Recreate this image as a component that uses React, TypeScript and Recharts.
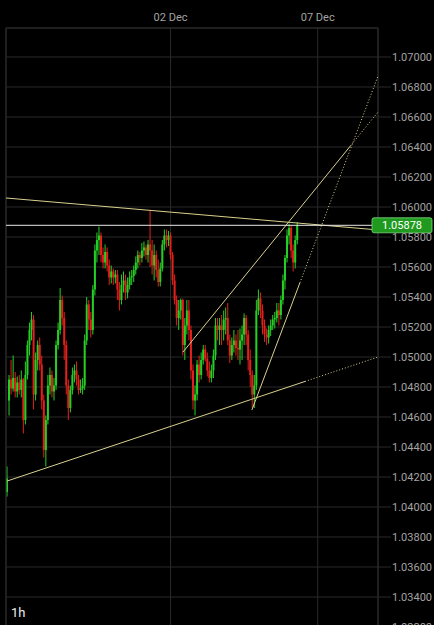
import { Bar, CartesianGrid, ComposedChart, ReferenceLine, XAxis, YAxis } from "recharts"

// hourly candles
const opens = [
  1.0410, 1.0471, 1.0485, 1.0479, 1.0486, 1.0477, 1.0483, 1.0478, 1.0485, 1.0458,
  1.0488, 1.0508, 1.0518, 1.0525, 1.0475, 1.0498, 1.0508, 1.0495, 1.0471, 1.0438,
  1.0458, 1.0481, 1.0488, 1.0477, 1.0481, 1.0508, 1.0518, 1.0538, 1.0526, 1.0508,
  1.0481, 1.0466, 1.0478, 1.0488, 1.0491, 1.0485, 1.0478, 1.0479, 1.0481, 1.0511,
  1.0535, 1.0525, 1.0518, 1.0545, 1.0571, 1.0578, 1.0581, 1.0568, 1.0563, 1.0570,
  1.0561, 1.0553, 1.0557, 1.0553, 1.0555, 1.0545, 1.0538, 1.0548, 1.0551, 1.0543,
  1.0548, 1.0553, 1.0554, 1.0558, 1.0563, 1.0568, 1.0566, 1.0571, 1.0573, 1.0568,
  1.0575, 1.0571, 1.0561, 1.0568, 1.0558, 1.0550, 1.0559, 1.0575, 1.0581, 1.0578,
  1.0581, 1.0568, 1.0551, 1.0538, 1.0526, 1.0531, 1.0538, 1.0508, 1.0521, 1.0531,
  1.0518, 1.0491, 1.0471, 1.0475, 1.0495, 1.0488, 1.0498, 1.0505, 1.0499, 1.0491,
  1.0486, 1.0491, 1.0501, 1.0521, 1.0518, 1.0521, 1.0518, 1.0525, 1.0526, 1.0511,
  1.0501, 1.0508, 1.0511, 1.0506, 1.0505, 1.0511, 1.0515, 1.0526, 1.0515, 1.0498,
  1.0488, 1.0475, 1.0481, 1.0531, 1.0539, 1.0531, 1.0521, 1.0515, 1.0513, 1.0518,
  1.0521, 1.0525, 1.0526, 1.0531, 1.0528, 1.0538, 1.0551, 1.0566, 1.0581, 1.0586,
  1.0571, 1.0563, 1.0578,
]
const highs = [
  1.0427, 1.0488, 1.0498, 1.0501, 1.0490, 1.0487, 1.0488, 1.0491, 1.0486, 1.0497,
  1.0511, 1.0523, 1.0530, 1.0528, 1.0503, 1.0511, 1.0513, 1.0501, 1.0475, 1.0461,
  1.0488, 1.0493, 1.0491, 1.0486, 1.0511, 1.0523, 1.0546, 1.0541, 1.0530, 1.0511,
  1.0485, 1.0481, 1.0493, 1.0495, 1.0497, 1.0488, 1.0485, 1.0486, 1.0515, 1.0540,
  1.0538, 1.0530, 1.0548, 1.0575, 1.0583, 1.0587, 1.0583, 1.0573, 1.0575, 1.0573,
  1.0565, 1.0561, 1.0559, 1.0558, 1.0558, 1.0550, 1.0555, 1.0557, 1.0555, 1.0553,
  1.0557, 1.0558, 1.0561, 1.0567, 1.0571, 1.0570, 1.0576, 1.0577, 1.0575, 1.0578,
  1.0598, 1.0578, 1.0575, 1.0571, 1.0565, 1.0563, 1.0578, 1.0585, 1.0585, 1.0584,
  1.0583, 1.0570, 1.0555, 1.0541, 1.0538, 1.0539, 1.0539, 1.0526, 1.0538, 1.0538,
  1.0521, 1.0495, 1.0481, 1.0498, 1.0501, 1.0503, 1.0508, 1.0508, 1.0503, 1.0497,
  1.0495, 1.0505, 1.0526, 1.0526, 1.0526, 1.0528, 1.0531, 1.0533, 1.0536, 1.0515,
  1.0513, 1.0518, 1.0515, 1.0518, 1.0519, 1.0521, 1.0529, 1.0528, 1.0518, 1.0505,
  1.0491, 1.0488, 1.0538, 1.0545, 1.0543, 1.0535, 1.0525, 1.0519, 1.0521, 1.0525,
  1.0528, 1.0530, 1.0536, 1.0536, 1.0541, 1.0555, 1.0568, 1.0585, 1.0589, 1.0588,
  1.0575, 1.0581, 1.0590,
]
const lows = [
  1.0407, 1.0461, 1.0475, 1.0477, 1.0473, 1.0473, 1.0475, 1.0473, 1.0449, 1.0455,
  1.0485, 1.0501, 1.0511, 1.0465, 1.0471, 1.0491, 1.0491, 1.0465, 1.0433, 1.0427,
  1.0455, 1.0475, 1.0473, 1.0471, 1.0478, 1.0505, 1.0515, 1.0521, 1.0498, 1.0475,
  1.0458, 1.0463, 1.0475, 1.0483, 1.0481, 1.0475, 1.0476, 1.0475, 1.0478, 1.0508,
  1.0518, 1.0513, 1.0515, 1.0541, 1.0563, 1.0568, 1.0563, 1.0559, 1.0559, 1.0557,
  1.0548, 1.0549, 1.0548, 1.0549, 1.0538, 1.0531, 1.0535, 1.0543, 1.0538, 1.0539,
  1.0545, 1.0548, 1.0550, 1.0555, 1.0559, 1.0561, 1.0563, 1.0567, 1.0565, 1.0563,
  1.0560, 1.0555, 1.0551, 1.0553, 1.0547, 1.0547, 1.0557, 1.0571, 1.0573, 1.0574,
  1.0565, 1.0548, 1.0535, 1.0521, 1.0518, 1.0525, 1.0501, 1.0498, 1.0515, 1.0511,
  1.0485, 1.0465, 1.0461, 1.0471, 1.0483, 1.0485, 1.0495, 1.0497, 1.0487, 1.0483,
  1.0483, 1.0486, 1.0498, 1.0511, 1.0508, 1.0508, 1.0511, 1.0515, 1.0508, 1.0496,
  1.0498, 1.0503, 1.0501, 1.0498, 1.0495, 1.0498, 1.0508, 1.0508, 1.0491, 1.0480,
  1.0466, 1.0466, 1.0478, 1.0528, 1.0526, 1.0515, 1.0510, 1.0508, 1.0509, 1.0514,
  1.0518, 1.0519, 1.0523, 1.0521, 1.0525, 1.0535, 1.0545, 1.0563, 1.0575, 1.0566,
  1.0557, 1.0559, 1.0575,
]
const closes = [
  1.0419, 1.0485, 1.0479, 1.0486, 1.0477, 1.0483, 1.0478, 1.0485, 1.0458, 1.0488,
  1.0508, 1.0518, 1.0525, 1.0475, 1.0498, 1.0508, 1.0495, 1.0471, 1.0438, 1.0458,
  1.0481, 1.0488, 1.0477, 1.0481, 1.0508, 1.0518, 1.0538, 1.0526, 1.0508, 1.0481,
  1.0466, 1.0478, 1.0488, 1.0491, 1.0485, 1.0478, 1.0479, 1.0481, 1.0511, 1.0535,
  1.0525, 1.0518, 1.0545, 1.0571, 1.0578, 1.0581, 1.0568, 1.0563, 1.0570, 1.0561,
  1.0553, 1.0557, 1.0553, 1.0555, 1.0545, 1.0538, 1.0548, 1.0551, 1.0543, 1.0548,
  1.0553, 1.0554, 1.0558, 1.0563, 1.0568, 1.0566, 1.0571, 1.0573, 1.0568, 1.0575,
  1.0571, 1.0561, 1.0568, 1.0558, 1.0550, 1.0559, 1.0575, 1.0581, 1.0578, 1.0581,
  1.0568, 1.0551, 1.0538, 1.0526, 1.0531, 1.0538, 1.0508, 1.0521, 1.0531, 1.0518,
  1.0491, 1.0471, 1.0475, 1.0495, 1.0488, 1.0498, 1.0505, 1.0499, 1.0491, 1.0486,
  1.0491, 1.0501, 1.0521, 1.0518, 1.0521, 1.0518, 1.0525, 1.0526, 1.0511, 1.0501,
  1.0508, 1.0511, 1.0506, 1.0505, 1.0511, 1.0515, 1.0526, 1.0515, 1.0498, 1.0488,
  1.0475, 1.0481, 1.0531, 1.0539, 1.0531, 1.0521, 1.0515, 1.0513, 1.0518, 1.0521,
  1.0525, 1.0526, 1.0531, 1.0528, 1.0538, 1.0551, 1.0566, 1.0581, 1.0586, 1.0571,
  1.0563, 1.0578, 1.0588,
]

// x is the bar index; 02 Dec and 07 Dec fall on these bars
const dateTicks = [80, 152]
const dateLabels = ["02 Dec", "07 Dec"]

const priceTicks = [
  1.032, 1.034, 1.036, 1.038, 1.04, 1.042, 1.044, 1.046, 1.048, 1.05,
  1.052, 1.054, 1.056, 1.058, 1.06, 1.062, 1.064, 1.066, 1.068, 1.07,
]
const lastPrice = 1.05878

// drawn trend lines: [x1, y1, x2, y2, dotted]
const trendLines: [number, number, number, number, boolean][] = [
  [-0.5, 1.0606, 181.5, 1.05847, false],
  [0, 1.04173, 145.8, 1.04837, false],
  [145.8, 1.04837, 181.5, 1.05, true],
  [86.1, 1.05033, 168, 1.06407, false],
  [168, 1.06407, 181.5, 1.06633, true],
  [119.8, 1.04647, 143.3, 1.05495, false],
  [143.3, 1.05495, 181.5, 1.06873, true],
]

const UP = "#26cf26"
const DOWN = "#e3201b"
const GRID = "#2a2a2a"
const TREND = "#d8d08e"
const FONT = "Roboto, 'Liberation Sans', sans-serif"

const data = opens.map((open, i) => ({
  i,
  range: [lows[i], highs[i]],
  open,
  close: closes[i],
  high: highs[i],
  low: lows[i],
}))

function Candle(props: any) {
  const { x, y, width, height, payload } = props
  const { open, close, high, low } = payload
  const color = close >= open ? UP : DOWN
  const top = height < 0 ? y + height : y
  const h = Math.abs(height)
  const span = high - low || 1
  const py = (v: number) => top + ((high - v) / span) * h
  const cx = x + width / 2
  const bodyTop = py(Math.max(open, close))
  const bodyBot = py(Math.min(open, close))
  return (
    <g>
      <line x1={cx} x2={cx} y1={top} y2={top + h} stroke={color} strokeWidth={1} />
      <rect x={cx - 1} y={bodyTop} width={2} height={Math.max(bodyBot - bodyTop, 1)} fill={color} />
    </g>
  )
}

function DateTick(props: any) {
  const { x, payload } = props
  const label = dateLabels[dateTicks.indexOf(payload.value)]
  return (
    <text x={x} y={21} textAnchor="middle" fill="#a3a3a3" fontSize={11} fontFamily={FONT}>
      {label}
    </text>
  )
}

function PriceTick(props: any) {
  const { x, y, payload } = props
  return (
    <g>
      <line x1={x} x2={x + 13} y1={y} y2={y} stroke={GRID} />
      <text x={x + 14} y={y + 4} fill="#a3a3a3" fontSize={11} fontFamily={FONT}>
        {payload.value.toFixed(5)}
      </text>
    </g>
  )
}

function PriceTag(props: any) {
  const { viewBox } = props
  const right = viewBox.x + viewBox.width
  return (
    <g>
      <rect x={right - 6} y={viewBox.y - 7.5} width={60} height={15} rx={2} fill="#1f9a1f" stroke="#7fd87f" strokeWidth={0.8} />
      <text x={right + 24} y={viewBox.y + 4} textAnchor="middle" fill="#ffffff" fontSize={11} fontFamily={FONT}>
        {lastPrice.toFixed(5)}
      </text>
    </g>
  )
}

export default function App() {
  return (
    <div style={{ position: "fixed", left: 0, top: 0, width: 434, height: 625, background: "#000", overflow: "hidden" }}>
      <ComposedChart width={434} height={660} data={data} margin={{ top: 0, right: 0, bottom: 0, left: 6 }}>
        <CartesianGrid stroke={GRID} />
        <XAxis
          type="number"
          dataKey="i"
          orientation="top"
          domain={[-0.5, 181.5]}
          allowDataOverflow
          ticks={dateTicks}
          height={28}
          axisLine={false}
          tickLine={false}
          tick={<DateTick />}
        />
        <YAxis
          orientation="right"
          type="number"
          domain={[1.0298, 1.0719333]}
          allowDataOverflow
          ticks={priceTicks}
          width={56}
          axisLine={false}
          tickLine={false}
          tickSize={0}
          tickMargin={0}
          tick={<PriceTick />}
        />
        <ReferenceLine x={-0.5} stroke={GRID} />
        <ReferenceLine x={181.5} stroke={GRID} />
        <ReferenceLine y={1.0719333} stroke={GRID} />
        <Bar dataKey="range" barSize={2} shape={<Candle />} isAnimationActive={false} />
        {trendLines.map(([x1, y1, x2, y2, dotted], k) => (
          <ReferenceLine
            key={k}
            segment={[{ x: x1, y: y1 }, { x: x2, y: y2 }]}
            stroke={TREND}
            strokeWidth={1}
            strokeDasharray={dotted ? "1 2" : undefined}
            ifOverflow="visible"
          />
        ))}
        <ReferenceLine y={lastPrice} stroke="#e8e8e8" ifOverflow="visible" label={<PriceTag />} />
      </ComposedChart>
      <div style={{ position: "absolute", left: 11, top: 605, color: "#eeeeee", fontSize: 13, fontFamily: FONT }}>1h</div>
    </div>
  )
}
